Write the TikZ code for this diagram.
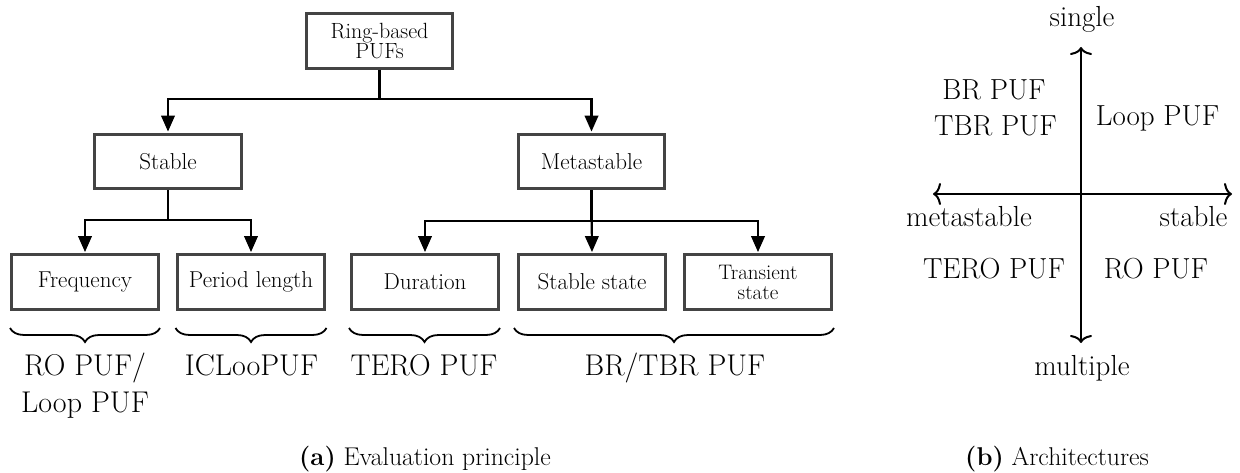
\documentclass[tikz,border=0pt]{standalone}
\usepackage{fontspec}
\usetikzlibrary{arrows.meta,decorations.pathreplacing}
\definecolor{boxgray}{HTML}{444444}
\tikzset{
  box/.style={draw=boxgray, line width=3.3pt, minimum width=146.5pt,
    minimum height=54.5pt, inner sep=0pt, align=center,
    font=\fontsize{23}{20}\selectfont},
  rootbox/.style={box, font=\fontsize{22}{20.5}\selectfont},
  smallbox/.style={box, font=\fontsize{21}{20}\selectfont},
  tree/.style={line width=2.2pt, shorten >=1pt,
    -{Triangle[length=16pt,width=13.5pt]}},
  curly/.style={line width=1.8pt,
    decorate, decoration={brace, mirror, amplitude=14pt}},
  leaf/.style={anchor=base, align=center, font=\fontsize{30}{37}\selectfont},
  quad/.style={anchor=base, font=\fontsize{29}{36}\selectfont},
  axis/.style={line width=2pt,
    {Computer Modern Rightarrow[length=8pt,width=22pt]}-{Computer Modern Rightarrow[length=8pt,width=22pt]}},
  caption/.style={anchor=base, font=\fontsize{25.7}{30}\selectfont}
}
\begin{document}
\begin{tikzpicture}[x=1pt, y=-1pt]
\useasboundingbox (0,0) rectangle (1240,473);

% ---- (a) tree of evaluation principles ----
\node[rootbox] (root) at (379.5,41) {Ring-based\\PUFs};
\node[box] (stable) at (168,161.5) {Stable};
\node[box] (meta) at (591.5,161.5) {Metastable};

\node[box] (freq) at (85,282) {Frequency};
\node[box] (period) at (251,282) {Period length};
\node[box] (dur) at (425,282) {Duration};
\node[box] (sstate) at (592,282) {Stable state};
\node[smallbox] (tstate) at (758,282) {Transient\\state};

\draw[tree] (root.south) -- ++(0,29.5) -| (stable.north);
\draw[tree] (root.south) -- ++(0,29.5) -| (meta.north);

\draw[tree] (stable.south) -- ++(0,29.5) -| (freq.north);
\draw[tree] (stable.south) -- ++(0,29.5) -| (period.north);

\draw[tree] (meta.south) -- ++(0,30.5) -| (dur.north);
\draw[tree] (meta.south) -- (sstate.north);
\draw[tree] (meta.south) -- ++(0,30.5) -| (tstate.north);

% braces grouping the leaves
\draw[curly] (10,328) -- (160,328);
\draw[curly] (175.5,328) -- (326.5,328);
\draw[curly] (349,328) -- (500,328);
\draw[curly] (514,328) -- (834,328);

% multi-line node: its base anchor sits on the last line
\node[leaf] (l1) at (85,412) {RO PUF/\\Loop PUF};
\node[leaf] (l2) at (251.5,375) {ICLooPUF};
\node[leaf] (l3) at (424,375) {TERO PUF};
\node[leaf] (l4) at (675,375) {BR/TBR PUF};

\node[caption] (capa) at (425,465) {\textbf{(a)} Evaluation principle};

% ---- (b) architecture quadrants ----
\coordinate (ytop) at (1081,47);
\coordinate (ybot) at (1081,343);
\coordinate (xleft) at (933,194);
\coordinate (xright) at (1232,194);
\draw[axis] (ybot) -- (ytop);
\draw[axis] (xleft) -- (xright);

\node[quad] (single) at (1082,27) {single};
\node[quad] (multiple) at (1082,375) {multiple};
\node[quad] (metast) at (969,227) {metastable};
\node[quad] (stab) at (1193.5,227) {stable};

\node[quad] (br) at (994,100) {BR PUF};
\node[quad] (tbr) at (995.5,136) {TBR PUF};
\node[quad] (loop) at (1157.5,126) {Loop PUF};
\node[quad] (tero) at (994,279) {TERO PUF};
\node[quad] (ro) at (1156,279) {RO PUF};

\node[caption] (capb) at (1057,465) {\textbf{(b)} Architectures};
\end{tikzpicture}
\end{document}
